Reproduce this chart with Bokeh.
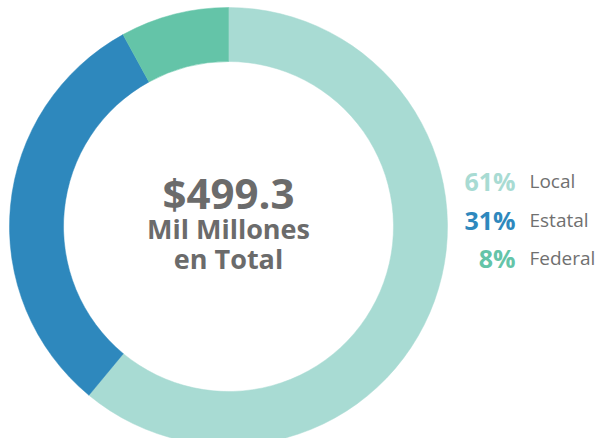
import math
from bokeh.plotting import figure
from bokeh.models import Range1d, ColumnDataSource
from bokeh.core.properties import value
from bokeh.embed import file_html
from bokeh.resources import INLINE

categories = ["Local", "Estatal", "Federal"]
percents = [61, 31, 8]
colors = ["#a8dbd3", "#2e88bd", "#64c4a8"]
total_label = "$499.3"
sub_lines = ["Mil Millones", "en Total"]

W, H = 597, 438
p = figure(width=W, height=H, output_backend="svg", toolbar_location=None,
           x_range=Range1d(0, W), y_range=Range1d(0, H), min_border=0)
p.axis.visible = False
p.grid.visible = False
p.outline_line_color = None
p.background_fill_color = "white"

# centre at page (228, 226)
cx, cy = 228, 212
r_out, r_in = 219, 165

tot = sum(percents)
starts, ends = [], []
cum = 0.0
for v in percents:
    starts.append(math.pi / 2 - 2 * math.pi * cum / tot)
    cum += v
    ends.append(math.pi / 2 - 2 * math.pi * cum / tot)

src = ColumnDataSource(dict(start=starts, end=ends, color=colors, cat=categories))
p.annular_wedge(x=cx, y=cy, inner_radius=r_in, outer_radius=r_out,
                inner_radius_units="screen", outer_radius_units="screen",
                start_angle="start", end_angle="end", direction="clock",
                fill_color="color", line_color="color", line_width=0.5, source=src)

font = value("Open Sans")
grey = "#6b6b6b"
p.text(x=[cx], y=[cy + 34], text=[total_label], text_align="center", text_baseline="middle",
       text_font=font, text_font_style="bold", text_font_size="42px", text_color=grey)
p.text(x=[cx, cx], y=[cy - 2, cy - 32], text=sub_lines, text_align="center", text_baseline="middle",
       text_font=font, text_font_style="bold", text_font_size="27px", text_color=grey)

ly = [cy + 46, cy + 7, cy - 31]
pct_txt = [f"{v}%" for v in percents]
p.text(x=[515] * 3, y=ly, text=pct_txt, text_align="right", text_baseline="middle",
       text_font=font, text_font_style="bold", text_font_size="25px", text_color=colors)
p.text(x=[529] * 3, y=ly, text=categories, text_align="left", text_baseline="middle",
       text_font=font, text_font_size="19px", text_color="#707070")

open("out.html", "w").write(file_html(p, INLINE))
